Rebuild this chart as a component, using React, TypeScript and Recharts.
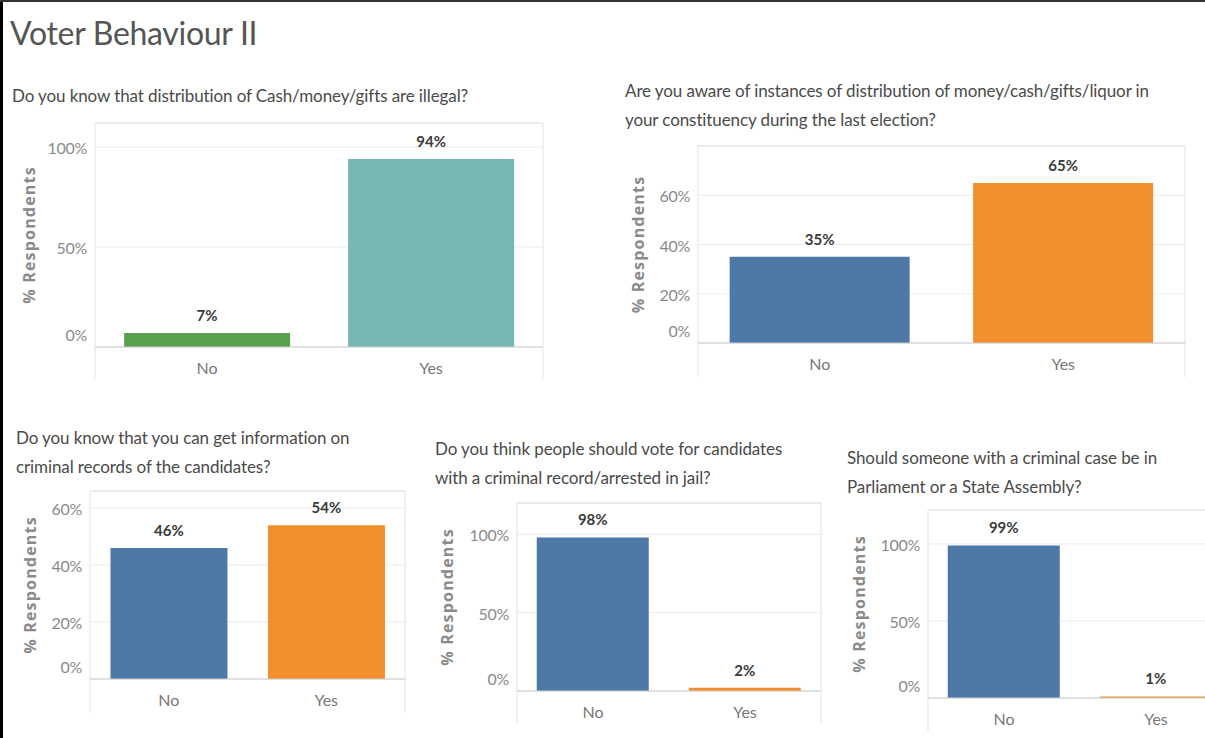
import React from 'react';
import * as R from 'recharts';

const { BarChart, Bar, XAxis, YAxis, CartesianGrid, Cell, LabelList } = R as any;

// ---------- data ----------
const TITLE = 'Voter Behaviour II';
const CATEGORIES = ['No', 'Yes'];
const Y_LABEL = '% Respondents';

const Q1_LINES = ['Do you know that distribution of Cash/money/gifts are illegal?'];
const Q1_VALUES = [7, 94];
const Q1_TICKS = [0, 50, 100];
const Q1_MAX = 112;

const Q2_LINES = [
  'Are you aware of instances of distribution of money/cash/gifts/liquor in',
  'your constituency during the last election?',
];
const Q2_VALUES = [35, 65];
const Q2_TICKS = [0, 20, 40, 60];
const Q2_MAX = 80;

const Q3_LINES = ['Do you know that you can get information on', 'criminal records of the candidates?'];
const Q3_VALUES = [46, 54];
const Q3_TICKS = [0, 20, 40, 60];
const Q3_MAX = 66;

const Q4_LINES = ['Do you think people should vote for candidates', 'with a criminal record/arrested in jail?'];
const Q4_VALUES = [98, 2];
const Q4_TICKS = [0, 50, 100];
const Q4_MAX = 120;

const Q5_LINES = ['Should someone with a criminal case be in', 'Parliament or a State Assembly?'];
const Q5_VALUES = [99, 1];
const Q5_TICKS = [0, 50, 100];
const Q5_MAX = 122;

// ---------- styles ----------
const FONT = 'Lato, "Open Sans", sans-serif';
const GREEN_TEAL = ['#59A14F', '#76B7B2'];
const BLUE_ORANGE = ['#4E79A7', '#F28E2B'];

const PANELS = [
  { lines: Q1_LINES, values: Q1_VALUES, ticks: Q1_TICKS, max: Q1_MAX, colors: GREEN_TEAL,
    plot: { x: 95, y: 123, w: 448, h: 224 }, xh: 33, text: { x: 12, y: 81 }, ylab: 66 },
  { lines: Q2_LINES, values: Q2_VALUES, ticks: Q2_TICKS, max: Q2_MAX, colors: BLUE_ORANGE,
    plot: { x: 698, y: 146, w: 487, h: 197 }, xh: 34, text: { x: 625, y: 76 }, ylab: 60 },
  { lines: Q3_LINES, values: Q3_VALUES, ticks: Q3_TICKS, max: Q3_MAX, colors: BLUE_ORANGE,
    plot: { x: 90, y: 491, w: 315, h: 188 }, xh: 34, text: { x: 16, y: 423 }, ylab: 60 },
  { lines: Q4_LINES, values: Q4_VALUES, ticks: Q4_TICKS, max: Q4_MAX, colors: BLUE_ORANGE,
    plot: { x: 517, y: 503, w: 304, h: 188 }, xh: 32, text: { x: 435, y: 434 }, ylab: 70 },
  { lines: Q5_LINES, values: Q5_VALUES, ticks: Q5_TICKS, max: Q5_MAX, colors: BLUE_ORANGE,
    plot: { x: 928, y: 510, w: 304, h: 188 }, xh: 33, text: { x: 847, y: 443 }, ylab: 69 },
];

function YTick(props: any) {
  const { x, y, payload } = props;
  const dy = payload.value === 0 ? -6 : 7;
  return (
    <text x={x - 8} y={y + dy} textAnchor="end" fill="#8a8a8a" fontSize={16} fontFamily={FONT} letterSpacing={-0.3}>
      {`${payload.value}%`}
    </text>
  );
}

function XTick(props: any) {
  const { x, y, payload } = props;
  return (
    <text x={x} y={y + 27} textAnchor="middle" fill="#777" fontSize={16} fontFamily={FONT}>
      {payload.value}
    </text>
  );
}

function YLabel(props: any) {
  const { viewBox, dist } = props;
  if (!viewBox) return null;
  const cx = viewBox.x + viewBox.width - dist;
  const cy = viewBox.y + viewBox.height / 2;
  return (
    <text
      x={cx}
      y={cy}
      transform={`rotate(-90, ${cx}, ${cy})`}
      textAnchor="middle"
      dominantBaseline="central"
      fill="#8a8a8a"
      fontSize={16}
      fontWeight={700}
      letterSpacing={1.2}
      fontFamily={'"Open Sans", sans-serif'}
    >
      {Y_LABEL}
    </text>
  );
}

const usePA: any = (R as any).usePlotArea;

function Frame({ xh }: { xh: number }) {
  const pa = usePA ? usePA() : null;
  if (!pa) return null;
  const { x, y, width, height } = pa;
  const stroke = '#e3e3e3';
  return (
    <g>
      <line x1={x} y1={y} x2={x + width} y2={y} stroke={stroke} />
      <line x1={x} y1={y} x2={x} y2={y + height + xh} stroke={stroke} />
      <line x1={x + width} y1={y} x2={x + width} y2={y + height + xh} stroke={stroke} />
    </g>
  );
}

function Panel({ p }: { p: any }) {
  const AXIS_W = 90;
  const TOP = 26;
  const RIGHT = 4;
  const w = AXIS_W + p.plot.w + RIGHT;
  const h = TOP + p.plot.h + p.xh + 2;
  const data = CATEGORIES.map((c, i) => ({ cat: c, value: p.values[i] }));
  return (
    <>
      <div
        style={{
          position: 'absolute',
          left: p.text.x,
          top: p.text.y,
          fontFamily: FONT,
          fontSize: 17,
          lineHeight: '29px',
          color: '#4a4a4a',
          whiteSpace: 'nowrap',
          letterSpacing: -0.1,
        }}
      >
        {p.lines.map((l: string, i: number) => (
          <div key={i}>{l}</div>
        ))}
      </div>
      <div style={{ position: 'absolute', left: p.plot.x - AXIS_W, top: p.plot.y - TOP }}>
        <BarChart
          width={w}
          height={h}
          data={data}
          margin={{ top: TOP, right: RIGHT, bottom: 2, left: 0 }}
          barCategoryGap="13%"
        >
          <CartesianGrid vertical={false} stroke="#ececec" />
          <XAxis
            dataKey="cat"
            height={p.xh}
            tickLine={false}
            tickSize={0}
            tickMargin={0}
            axisLine={{ stroke: '#cccccc' }}
            tick={<XTick />}
            interval={0}
          />
          <YAxis
            width={AXIS_W}
            domain={[0, p.max]}
            ticks={p.ticks}
            axisLine={false}
            tickLine={false}
            tickSize={0}
            tickMargin={0}
            tick={<YTick />}
            allowDataOverflow
            label={<YLabel dist={p.ylab} />}
          />
          <Bar dataKey="value" isAnimationActive={false}>
            {data.map((d, i) => (
              <Cell key={i} fill={p.colors[i]} />
            ))}
            <LabelList
              dataKey="value"
              position="top"
              offset={12}
              formatter={(v: any) => `${v}%`}
              fill="#3a3a3a"
              fontSize={15}
              fontWeight={700}
              fontFamily={FONT}
            />
          </Bar>
          <Frame xh={p.xh} />
        </BarChart>
      </div>
    </>
  );
}

export default function App() {
  return (
    <div
      style={{
        position: 'absolute',
        left: 0,
        top: 0,
        width: 1205,
        height: 738,
        overflow: 'hidden',
        background: '#fff',
      }}
    >
      <div
        style={{
          position: 'absolute',
          left: 10,
          top: 13,
          fontFamily: FONT,
          fontSize: 32,
          color: '#555',
          whiteSpace: 'nowrap',
          letterSpacing: -0.3,
        }}
      >
        {TITLE}
      </div>
      {PANELS.map((p, i) => (
        <Panel key={i} p={p} />
      ))}
      <div style={{ position: 'absolute', left: 0, top: 0, width: 3, height: 738, background: '#000' }} />
      <div style={{ position: 'absolute', left: 0, top: 0, width: 1205, height: 2, background: '#333' }} />
    </div>
  );
}
